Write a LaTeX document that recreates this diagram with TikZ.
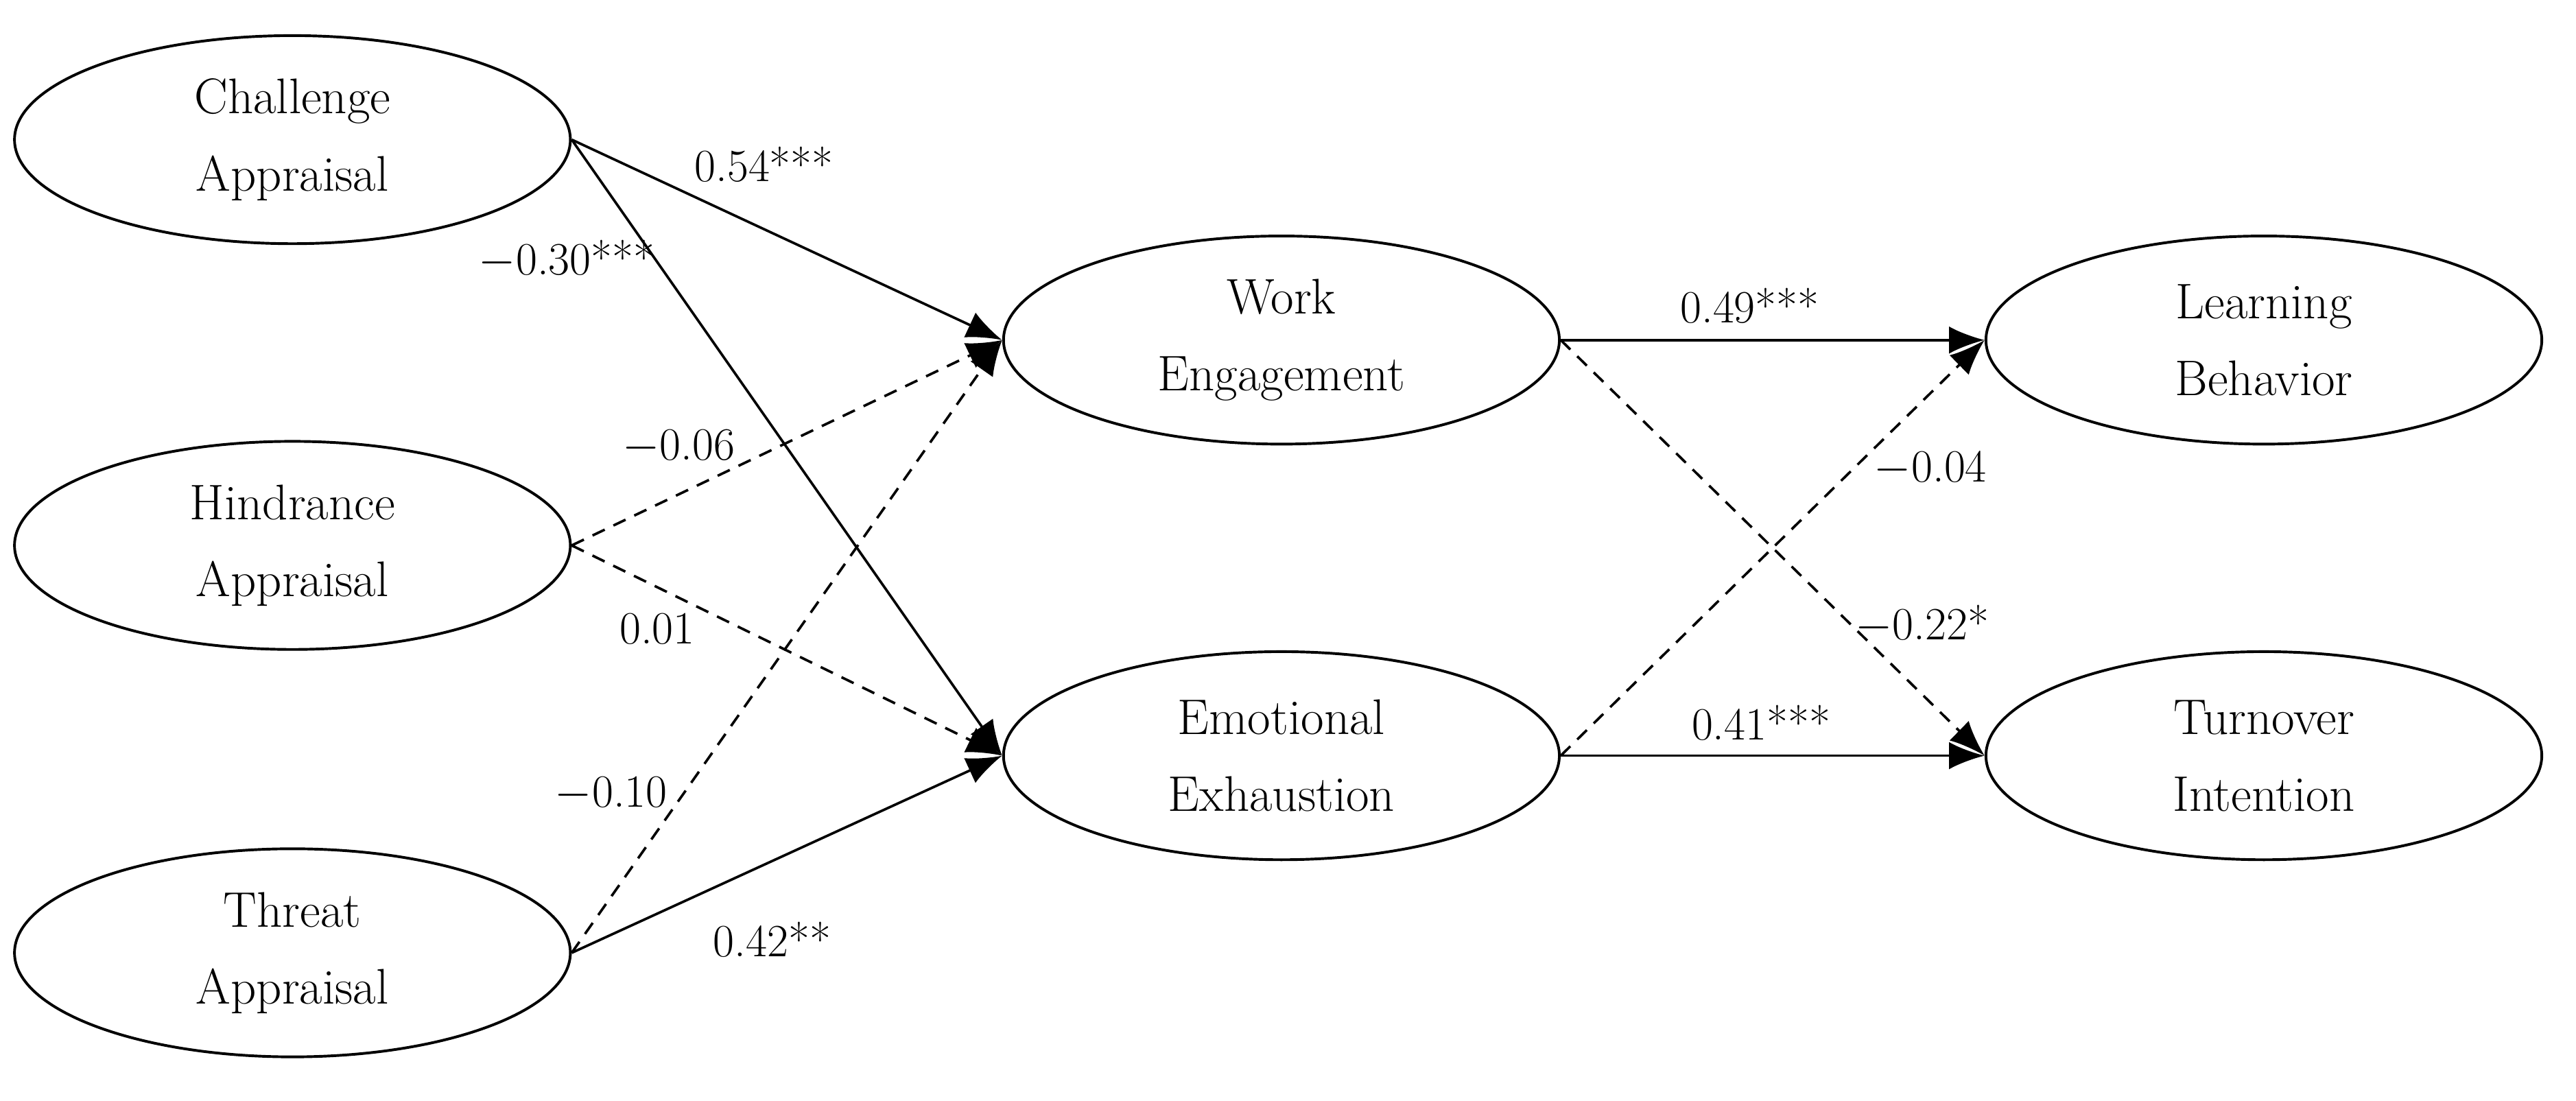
\documentclass[tikz,border=0pt]{standalone}
\usetikzlibrary{arrows.meta,shapes.geometric}
\begin{document}
\begin{tikzpicture}[x=0.03cm,y=-0.03cm,
  lv/.style={ellipse,draw,line width=1.4pt,minimum width=10.15cm,minimum height=3.8cm,align=center,font=\fontsize{26}{40}\selectfont},
  arr/.style={line width=1.3pt,-{Latex[length=0.65cm,width=0.5cm]}},
  das/.style={arr,dash pattern=on 7pt off 5pt},
  lab/.style={font=\fontsize{24}{28}\selectfont}]
\useasboundingbox (0,0) rectangle (1568,670);
\node[lv] (ca) at (178,85) {Challenge\\Appraisal};
\node[lv] (ha) at (178,332) {Hindrance\\Appraisal};
\node[lv] (ta) at (178,580) {Threat\\Appraisal};
\node[lv] (we) at (780,207) {Work\\Engagement};
\node[lv] (ee) at (780,460) {Emotional\\Exhaustion};
\node[lv] (lb) at (1378,207) {Learning\\Behavior};
\node[lv] (ti) at (1378,460) {Turnover\\Intention};
\draw[arr] (ca.east) -- (we.west);
\draw[arr] (ca.east) -- (ee.west);
\draw[das] (ha.east) -- (we.west);
\draw[das] (ha.east) -- (ee.west);
\draw[das] (ta.east) -- (we.west);
\draw[arr] (ta.east) -- (ee.west);
\draw[arr] (we.east) -- (lb.west);
\draw[das] (we.east) -- (ti.west);
\draw[das] (ee.east) -- (lb.west);
\draw[arr] (ee.east) -- (ti.west);
\node[lab] (l1) at (465,100) {0.54***};
\node[lab] (l2) at (345,158) {$-$0.30***};
\node[lab] (l3) at (413,272) {$-$0.06};
\node[lab] (l4) at (400,383) {0.01};
\node[lab] (l5) at (372,483) {$-$0.10};
\node[lab] (l6) at (470,572) {0.42**};
\node[lab] (l7) at (1065,186) {0.49***};
\node[lab] (l8) at (1175,285) {$-$0.04};
\node[lab] (l9) at (1170,380) {$-$0.22*};
\node[lab] (l10) at (1072,440) {0.41***};
\end{tikzpicture}
\end{document}
